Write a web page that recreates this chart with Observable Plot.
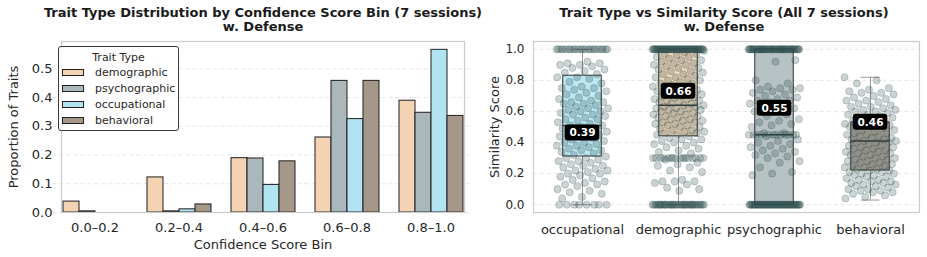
<!DOCTYPE html>
<html>
<head>
<meta charset="utf-8">
<script src="https://cdn.jsdelivr.net/npm/d3@7"></script>
<script src="https://cdn.jsdelivr.net/npm/@observablehq/plot@0.6"></script>
<style>
  html, body { margin: 0; padding: 0; background: #fff; }
  body { width: 927px; height: 257px; overflow: hidden; font-family: "DejaVu Sans", sans-serif; color: #262626; }
  #wrap { position: relative; width: 927px; height: 257px; }
  .panel { position: absolute; top: 0; height: 257px; }
  .title { position: absolute; transform: translateX(-50%); white-space: nowrap; font-weight: bold; font-size: 13px; line-height: 14px; color: #1a1a1a; text-align: center; }
  .chart { position: absolute; top: 36px; left: 0; }
  #legend { position: absolute; left: 58px; top: 46px; width: 119px; height: 83px; border: 1px solid #3a3a3a; border-radius: 3px; background: rgba(255,255,255,0.85); font-size: 11px; }
  #legend .lt { position: absolute; top: 4px; left: 0; width: 100%; text-align: center; font-size: 11px; }
  #legend .row { position: absolute; left: 3px; height: 14px; line-height: 14px; white-space: nowrap; }
  #legend .sw { position: absolute; left: 0; top: 3px; width: 22px; height: 7px; border: 1px solid #222; box-sizing: border-box; }
  #legend .lab { position: absolute; left: 33px; top: 0; }
  #leftPanel g[aria-label="y-axis tick label"], #leftPanel g[aria-label="y-axis tick label"] text,
  #leftPanel g[aria-label="fx-axis tick label"], #leftPanel g[aria-label="fx-axis tick label"] text { font-size: 13px; }
  #leftPanel g[aria-label="y-axis label"], #leftPanel g[aria-label="y-axis label"] text,
  #leftPanel g[aria-label="fx-axis label"], #leftPanel g[aria-label="fx-axis label"] text { font-size: 13px; }
  #rightPanel g[aria-label="y-axis tick label"], #rightPanel g[aria-label="y-axis tick label"] text { font-size: 12px; }
  #rightPanel g[aria-label="x-axis tick label"], #rightPanel g[aria-label="x-axis tick label"] text { font-size: 13px; }
  #rightPanel g[aria-label="y-axis label"], #rightPanel g[aria-label="y-axis label"] text { font-size: 13px; }
</style>
</head>
<body>
<div id="wrap">
  <div class="panel" id="leftPanel" style="left:0;width:480px"></div>
  <div class="panel" id="rightPanel" style="left:480px;width:447px"></div>
</div>
<script>
// ---------------- DATA ----------------
const traitTypes = ["demographic", "psychographic", "occupational", "behavioral"];
const traitColors = ["#F4D3B3", "#AAB7BB", "#B1E3F0", "#A69889"];
const confidenceBins = ["0.0–0.2", "0.2–0.4", "0.4–0.6", "0.6–0.8", "0.8–1.0"];
const demographicShare   = [0.038, 0.122, 0.189, 0.261, 0.389];
const psychographicShare = [0.004, 0.004, 0.188, 0.458, 0.347];
const occupationalShare  = [0.000, 0.011, 0.096, 0.325, 0.566];
const behavioralShare    = [0.000, 0.028, 0.178, 0.458, 0.336];
const leftYTicks = [0, 0.1, 0.2, 0.3, 0.4, 0.5];

const boxTypes = ["occupational", "demographic", "psychographic", "behavioral"];
const boxQ1      = [0.31, 0.44, 0.00, 0.22];
const boxMedian  = [0.51, 0.64, 0.45, 0.41];
const boxQ3      = [0.83, 1.00, 1.00, 0.53];
const whiskerLow = [0.00, 0.00, 0.00, 0.03];
const whiskerHigh= [1.00, 1.00, 1.00, 0.82];
const meanLabels = [0.39, 0.66, 0.55, 0.46];
const rightYTicks = [0, 0.2, 0.4, 0.6, 0.8, 1.0];

const occupationalScores = [
  1,1,1,1,1,1,1,1,1,1,1,1,1,1,1,1,1,1,1,1,1,1,
  0.92,0.91,0.91,0.90,0.90,0.89,0.88,0.87,0.86,0.85,0.84,0.82,0.82,0.81,
  0.79,0.78,0.76,0.75,0.75,0.74,0.73,0.72,0.71,0.70,0.69,0.68,0.67,0.66,0.66,0.65,0.65,0.64,0.63,0.62,0.62,0.61,0.60,0.60,0.59,0.58,0.58,0.57,0.56,0.55,0.55,0.54,0.53,0.52,0.51,0.51,0.50,
  0.49,0.48,0.48,0.47,0.46,0.45,0.45,0.44,0.44,0.43,0.42,0.41,0.40,0.40,0.39,0.38,0.38,0.37,0.36,0.35,0.35,0.34,0.33,0.32,0.31,0.30,0.30,
  0.29,0.28,0.28,0.27,0.26,0.25,0.25,0.24,0.23,0.22,0.22,0.21,0.20,0.20,0.19,0.18,0.17,0.16,0.15,
  0.14,0.13,0.13,0.12,0.10,0.09,0.08,0.07,0.05,0.04,
  0,0,0,0,0,0,0,0
];
const demographicScores = [
  1,1,1,1,1,1,1,1,1,1,1,1,1,1,1,1,1,1,1,1,1,1,1,1,1,1,1,1,1,1,1,1,1,1,1,1,1,1,1,1,1,1,1,1,1,1,1,1,1,1,1,1,1,1,1,
  0.99,0.98,0.97,0.97,0.96,0.95,0.95,0.94,0.93,0.93,0.92,0.91,0.91,0.90,0.90,
  0.89,0.88,0.88,0.87,0.86,0.86,0.85,0.84,0.84,0.83,0.82,0.82,0.81,0.80,0.80,
  0.79,0.78,0.78,0.77,0.76,0.76,0.75,0.74,0.74,0.73,0.72,0.72,0.71,0.70,0.70,
  0.69,0.69,0.68,0.68,0.67,0.67,0.66,0.66,0.65,0.65,0.64,0.64,0.63,0.63,0.62,0.62,0.62,0.61,0.61,0.60,0.60,
  0.59,0.59,0.58,0.58,0.57,0.57,0.56,0.56,0.55,0.55,0.54,0.54,0.53,0.53,0.52,0.52,0.51,0.51,0.50,0.50,
  0.49,0.48,0.48,0.47,0.47,0.46,0.46,0.45,0.45,0.44,
  0.43,0.42,0.42,0.41,0.40,0.40,0.39,0.38,0.37,0.36,0.35,0.34,0.33,
  0.30,0.30,0.30,0.30,0.30,0.30,0.30,0.30,0.30,0.30,0.30,0.30,0.30,0.30,0.30,0.30,
  0.29,0.27,0.26,0.25,0.24,0.22,0.21,
  0.16,0.15,0.15,0.15,0.14,0.13,0.11,0.10,0.09,
  0,0,0,0,0,0,0,0,0,0,0,0,0,0,0,0,0,0,0,0,0,0,0,0,0,0,0,0,0,0,0,0,0,0,0,0,0,0,0,0
];
const psychographicScores = [
  1,1,1,1,1,1,1,1,1,1,1,1,1,1,1,1,1,1,1,1,1,1,1,1,1,1,1,1,1,1,1,1,1,1,1,1,1,1,1,1,1,1,1,1,1,1,1,1,1,1,
  0.93,0.92,
  0.80,0.78,0.76,0.75,0.75,0.74,0.74,0.73,0.72,0.71,0.70,
  0.69,0.68,0.67,0.67,0.66,0.65,0.64,0.63,0.62,0.61,0.60,
  0.58,0.57,0.55,0.54,0.53,0.52,0.51,0.50,
  0.46,0.46,0.45,0.45,0.45,0.45,0.45,0.45,0.45,0.45,0.45,0.45,0.45,0.45,0.44,
  0.42,0.41,0.40,0.39,0.38,0.37,0.36,0.35,0.34,0.33,0.32,0.31,0.30,
  0.28,0.27,0.24,0.21,0.20,0.19,
  0,0,0,0,0,0,0,0,0,0,0,0,0,0,0,0,0,0,0,0,0,0,0,0,0,0,0,0,0,0,0,0,0,0,0,0,0,0,0,0,0,0,0,0,0,0,0,0,0,0,0,0,0,0,0
];
const behavioralScores = [
  0.82,0.80,0.78,0.75,0.74,0.73,0.72,0.72,0.71,0.70,
  0.69,0.68,0.67,0.67,0.66,0.65,0.64,0.63,0.63,0.62,0.61,0.61,0.60,0.60,
  0.59,0.58,0.58,0.57,0.56,0.56,0.55,0.54,0.54,0.53,0.52,0.52,0.51,0.51,0.50,0.50,
  0.49,0.48,0.48,0.47,0.46,0.46,0.45,0.45,0.44,0.44,0.43,0.43,0.42,0.42,0.41,0.41,0.40,0.40,0.40,
  0.39,0.38,0.38,0.37,0.37,0.36,0.36,0.35,0.35,0.34,0.34,0.33,0.33,0.32,0.32,0.31,0.31,0.30,0.30,
  0.29,0.29,0.28,0.28,0.27,0.27,0.26,0.26,0.25,0.25,0.24,0.24,0.23,0.23,0.22,0.22,0.21,0.21,0.20,0.20,
  0.19,0.19,0.18,0.18,0.17,0.16,0.16,0.15,0.15,0.14,0.14,0.13,0.13,0.12,0.12,0.11,0.10,0.10,
  0.09,0.09,0.08,0.08,0.07,0.06,0.05,0.04
];

// ---------------- BUILD TABLES ----------------
const shares = {demographic: demographicShare, psychographic: psychographicShare, occupational: occupationalShare, behavioral: behavioralShare};
const barData = [];
confidenceBins.forEach((bin, i) => traitTypes.forEach(t => barData.push({bin, trait: t, value: shares[t][i]})));

const boxData = boxTypes.map((type, i) => ({type, q1: boxQ1[i], median: boxMedian[i], q3: boxQ3[i], lo: whiskerLow[i], hi: whiskerHigh[i], mean: meanLabels[i]}));
const scoreLists = {occupational: occupationalScores, demographic: demographicScores, psychographic: psychographicScores, behavioral: behavioralScores};
const points = [];
boxTypes.forEach(type => scoreLists[type].forEach((score, k) => points.push({type, score, k})));

const font = "DejaVu Sans, sans-serif";

// ---------------- LEFT CHART ----------------
const left = Plot.plot({
  width: 480, height: 221,
  marginLeft: 52, marginRight: 7, marginTop: 5, marginBottom: 45,
  style: {fontFamily: font, fontSize: "13px", color: "#262626", background: "transparent", overflow: "visible"},
  fx: {domain: confidenceBins, paddingInner: 0.2, paddingOuter: 0.1, label: "Confidence Score Bin", labelAnchor: "center", labelArrow: false, tickSize: 0, tickPadding: 10, labelOffset: 36},
  x: {domain: traitTypes, axis: null, padding: 0},
  y: {domain: [0, 0.595], ticks: leftYTicks, tickFormat: d3.format(".1f"), label: "Proportion of Traits", labelAnchor: "center", labelArrow: false, tickSize: 0, tickPadding: 9, labelOffset: 53},
  color: {domain: traitTypes, range: traitColors},
  marks: [
    Plot.ruleY(leftYTicks, {stroke: "#e6e6e6", strokeDasharray: "4,3", insetLeft: -8.6, insetRight: -8.6}),
    Plot.barY(barData, {fx: "bin", x: "trait", y: "value", fill: "trait", stroke: "#1e1e1e", strokeWidth: 1}),
    Plot.frame({facet: "super", stroke: "#cccccc", strokeWidth: 1.2})
  ]
});

// ---------------- RIGHT CHART ----------------
const jitterScores = Plot.initializer({x: "type", y: "score"}, (data, facets, channels, scales) => {
  const sx = scales.x;
  const bw = sx.bandwidth();
  const X = Float64Array.from(channels.x.value, (v, i) => sx(v) + bw * ((((data[i].k * 0.6180339887) % 1) - 0.5) * 0.54));
  return {data, facets, channels: {x: {value: X}}};
});

const right = Plot.plot({
  width: 447, height: 221,
  marginLeft: 53, marginRight: 8, marginTop: 5, marginBottom: 45,
  style: {fontFamily: font, fontSize: "12px", color: "#262626", background: "transparent", overflow: "visible"},
  x: {domain: boxTypes, padding: 0, label: null, tickSize: 0, tickPadding: 12},
  y: {domain: [-0.05, 1.05], ticks: rightYTicks, tickFormat: d3.format(".1f"), label: "Similarity Score", labelAnchor: "center", labelArrow: false, tickSize: 0, tickPadding: 9, labelOffset: 44},
  color: {domain: traitTypes, range: traitColors},
  marks: [
    Plot.ruleY(rightYTicks, {stroke: "#e6e6e6", strokeDasharray: "4,3"}),
    Plot.ruleX(boxData, {x: "type", y1: "q3", y2: "hi", stroke: "#9a9a9a", strokeWidth: 1}),
    Plot.ruleX(boxData, {x: "type", y1: "lo", y2: "q1", stroke: "#9a9a9a", strokeWidth: 1}),
    Plot.tickY(boxData, {x: "type", y: "hi", insetLeft: 38.5, insetRight: 38.5, stroke: "#9a9a9a"}),
    Plot.tickY(boxData, {x: "type", y: "lo", insetLeft: 38.5, insetRight: 38.5, stroke: "#9a9a9a"}),
    Plot.barY(boxData, {x: "type", y1: "q1", y2: "q3", fill: "type", fillOpacity: 0.85, stroke: "#333", strokeWidth: 1, insetLeft: 28.75, insetRight: 28.75}),
    Plot.tickY(boxData, {x: "type", y: "median", insetLeft: 28.75, insetRight: 28.75, stroke: "#333", strokeWidth: 1.5}),
    Plot.dot(points, {...jitterScores, r: 3.6, fill: "#2F4F4F", fillOpacity: 0.25, stroke: "#2F4F4F", strokeOpacity: 0.28, strokeWidth: 0.8}),
    Plot.barY(boxData, {x: "type", y1: "mean", y2: "mean", dy: -11, insetTop: -8, insetBottom: -8, insetLeft: 30.75, insetRight: 30.75, rx: 3, fill: "black"}),
    Plot.text(boxData, {x: "type", y: "mean", dy: -11, text: d => d3.format(".2f")(d.mean), fill: "white", fontWeight: "bold", fontSize: 10.5}),
    Plot.frame({stroke: "#cccccc", strokeWidth: 1.2})
  ]
});

// ---------------- ASSEMBLE ----------------
function addTitle(panel, cx, lines) {
  lines.forEach((txt, i) => {
    const d = document.createElement("div");
    d.className = "title";
    d.style.left = cx + "px";
    d.style.top = (6 + i * 14) + "px";
    d.textContent = txt;
    panel.appendChild(d);
  });
}
const lp = document.getElementById("leftPanel");
const rp = document.getElementById("rightPanel");
addTitle(lp, 263, ["Trait Type Distribution by Confidence Score Bin (7 sessions)", "w. Defense"]);
addTitle(rp, 244, ["Trait Type vs Similarity Score (All 7 sessions)", "w. Defense"]);
left.classList.add("chart"); right.classList.add("chart");
lp.appendChild(left); rp.appendChild(right);

// legend
const lg = document.createElement("div");
lg.id = "legend";
const lt = document.createElement("div"); lt.className = "lt"; lt.textContent = "Trait Type"; lg.appendChild(lt);
traitTypes.forEach((t, i) => {
  const row = document.createElement("div");
  row.className = "row";
  row.style.top = (19 + i * 16) + "px";
  const sw = document.createElement("div"); sw.className = "sw"; sw.style.background = traitColors[i];
  const lab = document.createElement("div"); lab.className = "lab"; lab.textContent = t;
  row.appendChild(sw); row.appendChild(lab);
  lg.appendChild(row);
});
lp.appendChild(lg);
</script>
</body>
</html>
